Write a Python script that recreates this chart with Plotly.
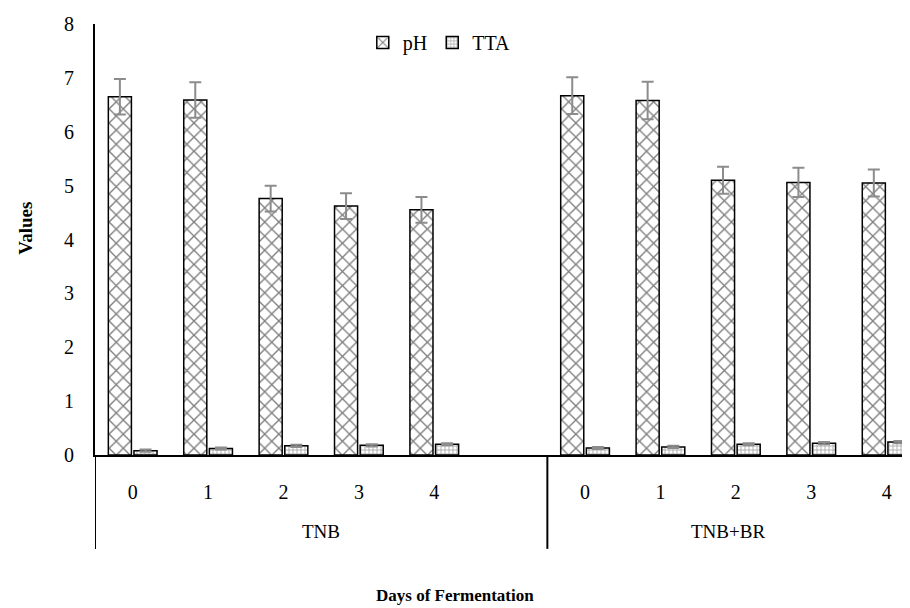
import plotly.graph_objects as go

# ---- data ----
groups = ["TNB", "TNB+BR"]
days = ["0", "1", "2", "3", "4"]
x_pos_tnb = [0, 1, 2, 3, 4]
x_pos_tnbbr = [6, 7, 8, 9, 10]

ph_tnb = [6.65, 6.59, 4.76, 4.62, 4.55]
ph_tnb_err = [0.33, 0.33, 0.24, 0.24, 0.24]
ph_tnbbr = [6.67, 6.58, 5.10, 5.06, 5.05]
ph_tnbbr_err = [0.34, 0.35, 0.25, 0.27, 0.25]

tta_tnb = [0.08, 0.12, 0.17, 0.18, 0.20]
tta_tnb_err = [0.02, 0.02, 0.02, 0.02, 0.02]
tta_tnbbr = [0.13, 0.15, 0.20, 0.22, 0.24]
tta_tnbbr_err = [0.02, 0.02, 0.02, 0.02, 0.02]

x_all = x_pos_tnb + x_pos_tnbbr
ph_all = ph_tnb + ph_tnbbr
ph_err_all = ph_tnb_err + ph_tnbbr_err
tta_all = tta_tnb + tta_tnbbr
tta_err_all = tta_tnb_err + tta_tnbbr_err
tick_text = days + days

FONT = "Liberation Serif, Times New Roman, serif"
ERR_COLOR = "#8c8c8c"

fig = go.Figure()
fig.add_trace(go.Bar(
    name="pH", x=x_all, y=ph_all,
    marker=dict(color="white", line=dict(color="black", width=1.5),
                pattern=dict(shape="x", fgcolor="black", bgcolor="white", size=10, solidity=0.25)),
    error_y=dict(type="data", array=ph_err_all, color=ERR_COLOR, thickness=2, width=6),
))
fig.add_trace(go.Bar(
    name="TTA", x=x_all, y=tta_all,
    marker=dict(color="white", line=dict(color="black", width=1.5),
                pattern=dict(shape="+", fgcolor="#555555", bgcolor="white", size=4, solidity=0.4)),
    error_y=dict(type="data", array=tta_err_all, color=ERR_COLOR, thickness=2, width=6),
))

# page body has an 8px default margin; account for it
OFF = 8
L_abs, T_abs, base_abs = 94.5, 23.5, 455
W, H = 910 - OFF, 608 - OFF
L, T, B = L_abs - OFF, T_abs - OFF, 608 - base_abs
plot_h = base_abs - T_abs
plot_w = 910 - L_abs
ext = (549 - base_abs) / plot_h

fig.update_layout(
    width=W, height=H,
    margin=dict(l=L, r=0, t=T, b=B, pad=0),
    paper_bgcolor="white", plot_bgcolor="white",
    barmode="group", bargap=0.32, bargroupgap=0.1,
    font=dict(family=FONT, size=19, color="black"),
    showlegend=True,
    legend=dict(orientation="h", x=(439 - L_abs) / plot_w, xanchor="center",
                y=(base_abs - 42) / plot_h, yanchor="middle",
                font=dict(family=FONT, size=20), itemwidth=30, tracegroupgap=0,
                bgcolor="rgba(0,0,0,0)"),
    xaxis=dict(range=[-0.5, 10.31], tickmode="array", tickvals=x_all, ticktext=tick_text,
               showline=True, linecolor="black", linewidth=2, showgrid=False, zeroline=False,
               ticks="", ticklabelstandoff=18, tickfont=dict(family=FONT, size=20)),
    yaxis=dict(range=[0, 8], dtick=1, showline=True, linecolor="black", linewidth=2,
               showgrid=False, zeroline=False, ticks="", ticklabelstandoff=15,
               tickfont=dict(family=FONT, size=20)),
)

# y-axis title
fig.add_annotation(text="<b>Values</b>", textangle=-90,
                   x=(25 - L_abs) / plot_w, xref="paper",
                   y=(base_abs - 228) / plot_h, yref="paper", showarrow=False,
                   font=dict(family=FONT, size=19), xanchor="center", yanchor="middle")

# axis extensions and group divider
fig.add_shape(type="line", xref="x", yref="paper", x0=-0.5, x1=-0.5, y0=0, y1=-ext,
              line=dict(color="black", width=2))
fig.add_shape(type="line", xref="x", yref="paper", x0=5.5, x1=5.5, y0=0, y1=-ext,
              line=dict(color="black", width=2))

# group labels
grp_y = (base_abs - 532) / plot_h
fig.add_annotation(text=groups[0], x=2.5, xref="x", y=grp_y, yref="paper",
                   showarrow=False, font=dict(family=FONT, size=19), yanchor="middle")
fig.add_annotation(text=groups[1], x=7.9, xref="x", y=grp_y, yref="paper",
                   showarrow=False, font=dict(family=FONT, size=19), yanchor="middle")

# x-axis title
fig.add_annotation(text="<b>Days of Fermentation</b>", x=(455 - L_abs) / plot_w, xref="paper",
                   y=(base_abs - 596) / plot_h, yref="paper", showarrow=False,
                   font=dict(family=FONT, size=17), yanchor="middle")

fig.write_html("out.html")
